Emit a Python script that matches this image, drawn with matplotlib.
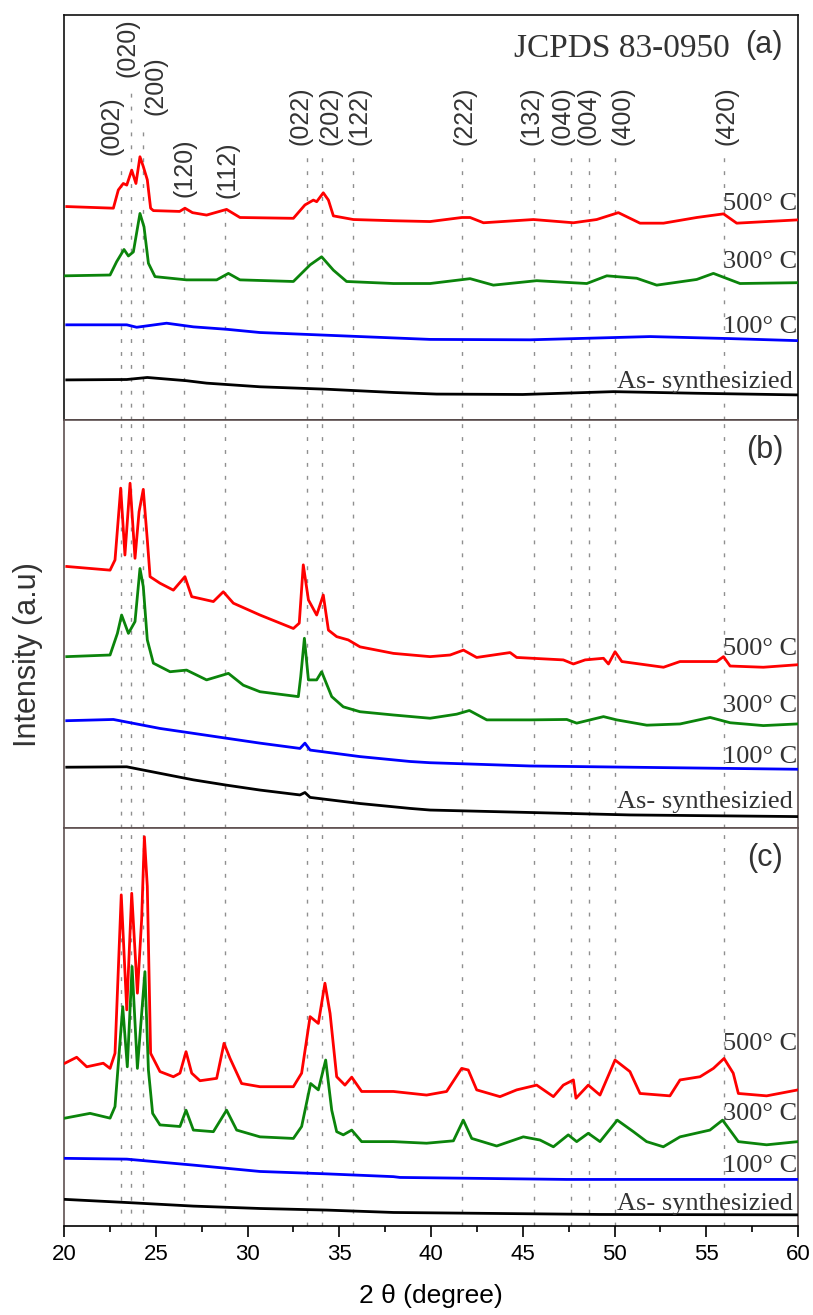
import numpy as np
import matplotlib
matplotlib.use("Agg")
import matplotlib.pyplot as plt

# ===== peak positions (JCPDS 83-0950) =====
hkl_labels = ['(002)', '(020)', '(200)', '(120)', '(112)', '(022)', '(202)',
              '(122)', '(222)', '(132)', '(040)', '(004)', '(400)', '(420)']
hkl_pos = [23.11, 23.63, 24.28, 26.54, 28.79, 33.23, 34.04,
           35.77, 41.67, 45.63, 47.65, 48.61, 50.03, 55.97]

# ===== panel (a) =====
a_500_x = [20.15, 22.69, 22.96, 23.23, 23.42, 23.69, 23.92, 24.14, 24.32, 24.54, 24.72, 24.87,
           26.3, 26.59, 27.0, 27.77, 28.86, 29.59, 32.50, 33.13, 33.59, 33.77, 34.13, 34.41,
           34.68, 35.77, 37.95, 39.95, 41.68, 42.13, 42.86, 45.58, 47.76, 49.03, 50.21, 51.39,
           52.67, 54.48, 55.94, 56.66, 59.93]
a_500_y = [52.7, 52.3, 56.8, 58.4, 58.0, 61.7, 58.4, 65.0, 62.6, 59.3, 52.3, 51.7,
           51.5, 52.3, 51.2, 50.6, 52.0, 50.0, 49.8, 53.1, 54.3, 53.9, 56.1, 54.3,
           50.4, 49.5, 49.2, 49.0, 50.0, 50.0, 48.7, 49.5, 48.7, 49.5, 51.2, 48.6,
           48.6, 50.0, 50.9, 48.6, 49.4]
a_300_x = [20.05, 22.51, 22.87, 23.27, 23.51, 23.78, 24.14, 24.36, 24.60, 24.96, 26.68, 28.32,
           28.96, 29.59, 32.50, 33.41, 34.04, 34.68, 35.40, 37.95, 39.95, 42.13, 43.40, 45.76,
           48.49, 49.58, 51.21, 52.30, 54.48, 55.39, 56.84, 59.93]
a_300_y = [35.6, 35.8, 39.1, 42.1, 40.5, 41.5, 51.0, 47.7, 38.7, 35.4, 34.6, 34.6,
           36.2, 34.6, 34.2, 38.3, 40.3, 37.0, 34.2, 33.7, 33.7, 34.9, 33.3, 34.4,
           33.7, 35.6, 35.0, 33.3, 34.7, 36.2, 33.7, 33.9]
a_100_x = [20.15, 23.42, 23.96, 25.59, 27.05, 28.86, 30.68, 33.95, 36.13, 39.95, 45.40, 51.94,
           56.30, 59.93]
a_100_y = [23.5, 23.5, 22.9, 23.9, 23.0, 22.4, 21.6, 21.0, 20.6, 19.9, 19.8, 20.6,
           20.1, 19.6]
a_as_x = [20.15, 23.42, 24.54, 26.68, 27.77, 30.68, 34.31, 37.95, 40.31, 45.0, 49.94, 54.48, 59.93]
a_as_y = [9.9, 10.0, 10.5, 9.7, 9.1, 8.2, 7.6, 6.8, 6.4, 6.3, 7.0, 6.6, 6.2]

# ===== panel (b) =====
b_500_x = [20.15, 22.51, 22.78, 23.09, 23.32, 23.60, 23.87, 24.09, 24.32, 24.54, 24.69, 25.23,
           25.96, 26.59, 26.96, 28.14, 28.68, 29.23, 30.68, 32.50, 32.82, 33.04, 33.32, 33.77,
           34.13, 34.41, 34.86, 35.49, 36.13, 37.95, 39.95, 41.04, 41.77, 42.49, 44.31, 44.67,
           47.21, 47.76, 48.40, 49.40, 49.67, 50.03, 50.40, 52.67, 53.57, 55.57, 55.94, 56.30,
           58.11, 59.93]
b_500_y = [64.1, 63.2, 65.7, 83.3, 66.9, 84.5, 66.1, 77.5, 83.0, 70.6, 61.6, 60.0,
           58.3, 61.6, 56.7, 55.5, 57.9, 55.1, 52.2, 48.9, 50.2, 64.5, 55.9, 52.2,
           57.1, 48.5, 46.9, 46.1, 44.4, 42.8, 42.0, 42.4, 43.6, 41.8, 43.0, 41.8,
           41.2, 40.2, 41.2, 41.6, 40.2, 43.2, 40.8, 39.4, 40.8, 40.8, 42.0, 39.7,
           39.4, 40.0]
b_300_x = [20.15, 22.51, 22.91, 23.14, 23.51, 23.87, 24.14, 24.32, 24.54, 24.87, 25.78, 26.68,
           27.77, 28.96, 29.77, 30.68, 32.77, 32.90, 33.10, 33.32, 33.77, 34.04, 34.59, 35.22,
           36.13, 37.95, 39.95, 41.40, 42.09, 43.04, 45.40, 47.40, 47.94, 49.40, 50.12, 51.76,
           53.57, 55.21, 56.30, 58.11, 59.93]
b_300_y = [42.0, 42.4, 47.7, 52.2, 47.7, 50.6, 63.6, 59.2, 46.1, 40.4, 38.3, 38.7,
           36.3, 37.9, 35.0, 33.4, 32.2, 37.1, 46.5, 36.3, 36.3, 38.3, 32.2, 29.7,
           28.5, 27.7, 26.9, 27.9, 28.8, 26.5, 26.5, 26.6, 25.7, 27.3, 26.5, 25.2,
           25.5, 27.1, 25.8, 25.1, 25.5]
b_100_x = [20.15, 22.69, 25.23, 27.05, 28.86, 30.68, 32.86, 33.13, 33.41, 36.13, 38.86, 39.95,
           45.40, 50.85, 59.93]
b_100_y = [26.3, 26.6, 24.4, 23.2, 22.0, 20.8, 19.5, 20.8, 19.1, 17.5, 16.3, 16.0,
           15.2, 14.9, 14.4]
b_as_x = [20.15, 23.42, 25.23, 27.05, 28.86, 30.68, 32.86, 33.13, 33.41, 36.13, 38.86, 39.95,
          45.40, 50.85, 59.93]
b_as_y = [14.9, 15.0, 13.4, 11.8, 10.5, 9.3, 8.1, 8.7, 7.5, 6.0, 4.8, 4.4,
          3.8, 3.2, 2.8]

# ===== panel (c) =====
c_500_x = [20.05, 20.69, 21.24, 22.14, 22.51, 22.78, 23.12, 23.42, 23.69, 24.00, 24.23, 24.38,
           24.54, 24.72, 25.23, 25.96, 26.32, 26.65, 26.96, 27.41, 28.32, 28.72, 29.05, 29.68,
           30.68, 32.50, 32.95, 33.41, 33.86, 34.22, 34.50, 34.86, 35.31, 35.68, 36.22, 37.95,
           39.76, 40.85, 41.67, 42.03, 42.49, 43.76, 44.67, 45.76, 46.67, 47.21, 47.76, 47.90,
           48.57, 49.21, 50.03, 50.84, 51.39, 53.02, 53.57, 54.66, 55.39, 55.97, 56.47, 56.75,
           58.29, 60.0]
c_500_y = [40.9, 42.4, 40.0, 40.9, 39.6, 43.4, 83.2, 54.3, 83.6, 58.5, 76.9, 97.8,
           85.3, 43.4, 38.8, 37.5, 38.4, 43.8, 38.4, 36.5, 37.1, 45.9, 42.1, 35.8,
           35.0, 35.0, 38.4, 52.6, 50.9, 61.0, 53.4, 37.5, 35.4, 37.4, 33.8, 33.8,
           32.9, 33.8, 39.6, 39.2, 34.2, 32.5, 34.2, 35.4, 32.5, 35.4, 36.7, 32.1,
           35.4, 32.9, 41.7, 38.8, 33.3, 32.7, 36.7, 37.5, 39.6, 42.1, 38.4, 33.3,
           32.7, 34.2]
c_300_x = [20.05, 21.42, 22.51, 22.78, 23.20, 23.45, 23.71, 24.00, 24.41, 24.60, 24.83, 25.23,
           26.32, 26.65, 27.05, 28.14, 28.86, 29.41, 30.68, 32.50, 32.95, 33.44, 33.86, 34.26,
           34.59, 34.86, 35.22, 35.68, 36.22, 37.95, 39.76, 41.22, 41.76, 42.22, 43.58, 45.03,
           45.94, 46.67, 47.48, 47.94, 48.57, 49.21, 50.15, 51.03, 51.75, 52.66, 53.57, 55.20,
           55.89, 56.29, 56.75, 58.29, 60.0]
c_300_y = [27.1, 28.3, 27.1, 30.0, 55.1, 40.0, 65.2, 39.6, 63.9, 39.2, 28.3, 25.4,
           25.0, 29.1, 24.1, 23.7, 29.1, 24.1, 22.4, 22.0, 25.0, 35.8, 34.2, 41.7,
           29.1, 23.7, 22.9, 24.1, 21.2, 21.2, 20.8, 21.4, 26.6, 22.0, 20.1, 22.4,
           21.6, 19.9, 22.9, 21.2, 23.3, 21.2, 26.6, 23.7, 21.2, 19.9, 22.4, 24.1,
           26.6, 24.1, 21.2, 20.4, 21.2]
c_100_x = [20.05, 23.42, 27.05, 30.68, 34.31, 37.95, 38.31, 47.39, 60.0]
c_100_y = [17.0, 16.8, 15.3, 13.7, 13.1, 12.4, 12.2, 11.7, 11.7]
c_as_x = [20.0, 23.42, 27.05, 30.68, 34.31, 37.95, 49.21, 60.0]
c_as_y = [6.7, 5.9, 5.0, 4.4, 4.0, 3.4, 2.9, 2.8]

temps = ['500° C', '300° C', '100° C', 'As- synthesizied']
colors = ['#ff0000', '#0b840b', '#0000ff', '#000000']

panels = [
    ('(a)', [(a_500_x, a_500_y), (a_300_x, a_300_y), (a_100_x, a_100_y), (a_as_x, a_as_y)],
     [51.9, 37.5, 21.5, 7.9]),
    ('(b)', [(b_500_x, b_500_y), (b_300_x, b_300_y), (b_100_x, b_100_y), (b_as_x, b_as_y)],
     [42.4, 28.4, 15.9, 4.9]),
    ('(c)', [(c_500_x, c_500_y), (c_300_x, c_300_y), (c_100_x, c_100_y), (c_as_x, c_as_y)],
     [44.2, 26.6, 13.6, 4.0]),
]

# label heights for the hkl tags in panel (a)
hkl_label_y = [65.4, 84.7, 75.3, 55.1, 54.8, 67.9, 67.9, 67.9, 67.9, 67.9, 67.9, 67.9, 67.9, 67.9]
hkl_label_x = [22.59, 23.46, 24.99, 26.59, 28.91, 32.90, 34.50, 36.13, 41.85, 45.45, 47.14,
               48.61, 50.41, 56.13]

SANS = 'Liberation Sans'
SERIF = 'Liberation Serif'

fig = plt.figure(figsize=(8.13, 13.15), dpi=100)
left, width = 64 / 813, 734 / 813
rects = [(left, 1 - 420 / 1315, width, 405 / 1315),
         (left, 1 - 828 / 1315, width, 408 / 1315),
         (left, 1 - 1226 / 1315, width, 398 / 1315)]

axes = []
for i, (tag, series, ylab) in enumerate(panels):
    ax = fig.add_axes(rects[i])
    ax.set_xlim(20, 60)
    ax.set_ylim(0, 100)
    ax.set_yticks([])

    # dashed reference lines
    if i == 0:
        tops = [y - 2 for y in hkl_label_y]
    else:
        tops = [100] * len(hkl_pos)
    ax.vlines(hkl_pos, 0, tops, colors='#8f8f8f', linewidth=1.0,
              linestyles=(0, (2.8, 6.5)), zorder=1)

    for (x, y), c in zip(series, colors):
        ax.plot(x, y, color=c, lw=2.0, zorder=3, solid_joinstyle='round')

    for t, yy in zip(temps, ylab):
        if t.startswith('As'):
            ax.text(59.7, yy, t, ha='right', va='baseline', family=SERIF,
                    fontsize=19, color='#333333', clip_on=True, zorder=4)
        else:
            ax.text(55.91, yy, t, ha='left', va='baseline', family=SERIF,
                    fontsize=19, color='#333333', clip_on=True, zorder=4)

    ax.text(0.9796, 1 - 38 / (rects[i][3] * 1315), tag, transform=ax.transAxes,
            ha='right', va='baseline', family=SANS, fontsize=22, color='#333333')

    if i == 0:
        for s in ax.spines.values():
            s.set_color('#111111')
    else:
        for s in ax.spines.values():
            s.set_color('#5e5050')
    for s in ax.spines.values():
        s.set_linewidth(1.2)

    if i < 2:
        ax.tick_params(axis='x', bottom=False, labelbottom=False)
    axes.append(ax)

ax_a, ax_b, ax_c = axes

# hkl labels and card number
for lab, lx, ly in zip(hkl_labels, hkl_label_x, hkl_label_y):
    ax_a.text(lx, ly, lab, rotation=90, ha='center', va='bottom', family=SANS,
              fontsize=18, color='#333333')
ax_a.text(0.907, 0.896, 'JCPDS 83-0950', transform=ax_a.transAxes, ha='right',
          va='baseline', family=SERIF, fontsize=24, color='#333333')

# bottom axis
ax_c.spines['bottom'].set_color('black')
ax_c.set_xticks(np.arange(20, 61, 5))
ax_c.set_xticks(np.arange(22.5, 60, 5), minor=True)
ax_c.tick_params(axis='x', which='major', direction='out', length=8, width=1.2, labelsize=16, pad=5)
ax_c.tick_params(axis='x', which='minor', direction='out', length=4, width=1.2)
for lbl in ax_c.get_xticklabels():
    lbl.set_family(SANS)
ax_c.set_xlabel('2 θ (degree)', family=SANS, fontsize=19, labelpad=14)

fig.text(28 / 813, 1 - 655 / 1315, 'Intensity (a.u)', rotation=90, ha='center', va='center',
         family=SANS, fontsize=22, color='#333333')

fig.savefig('out.png', dpi=100)
